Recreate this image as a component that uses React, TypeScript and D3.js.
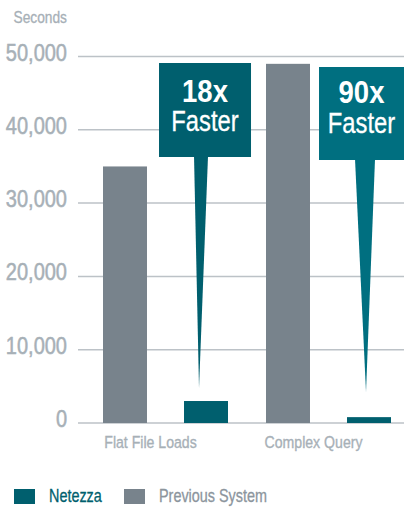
import React from "react";
import * as d3 from "d3";

const categories = ["Flat File Loads", "Complex Query"];
const seriesNames = ["Previous System", "Netezza"];
const previousValues = [35000, 49000];
const netezzaValues = [3000, 800];
const yTicks = [0, 10000, 20000, 30000, 40000, 50000];
const calloutLabels = ["18x", "90x"];
const calloutSub = "Faster";
const axisTitle = "Seconds";

const W = 404;
const H = 507;
const FONT = "'Liberation Sans', Arial, sans-serif";
const GRAY_BAR = "#78838c";
const TEAL = "#005f6e";
const TEAL2 = "#006f80";
const GRID = "#bcc2c7";
const LABEL = "#a7b0b7";

// callout layout (relative to the Netezza bar of each category)
const calloutLayout = [
  { dx: -25, top: 63, w: 92, h: 94, color: TEAL, s0: 10, s1: 24, tipDx: 15, tipY: 388, b1: 39, b2: 68 },
  { dx: -28, top: 67, w: 85, h: 93, color: TEAL2, s0: 8, s1: 28, tipDx: 19, tipY: 392, b1: 36, b2: 66 },
];

type NProps = {
  x: number;
  y: number;
  sx?: number;
  size: number;
  fill: string;
  anchor?: "start" | "middle" | "end";
  weight?: string;
  thick?: number;
  children: React.ReactNode;
};

function NText({ x, y, sx = 0.84, size, fill, anchor = "start", weight = "normal", thick = 0, children }: NProps) {
  return (
    <text
      transform={`translate(${x},${y}) scale(${sx},1)`}
      textAnchor={anchor}
      fontSize={size}
      fontWeight={weight}
      fill={fill}
      stroke={thick > 0 ? fill : "none"}
      strokeWidth={thick}
    >
      {children}
    </text>
  );
}

export default function App() {
  const x = d3.scaleBand<string>().domain(categories).range([78, 404]).paddingInner(0).paddingOuter(0);
  const sub = d3.scaleBand<string>().domain(seriesNames).range([25, 150]).paddingInner(0.457);
  const y = d3.scaleLinear().domain([0, 50000]).range([423, 56.5]);
  const fmt = d3.format(",");
  const bw = sub.bandwidth();

  return (
    <svg width={W} height={H} style={{ position: "absolute", left: 0, top: 0 }} fontFamily={FONT}>
      <rect width={W} height={H} fill="#fff" />
      <NText x={67} y={23} anchor="end" size={16} sx={0.86} thick={0.3} fill={LABEL}>{axisTitle}</NText>
      {yTicks.map((t) => (
        <g key={t}>
          <line x1={78} x2={404} y1={y(t)} y2={y(t)} stroke={GRID} strokeWidth={1.5} />
          <NText x={67} y={y(t) + 4} anchor="end" size={23} sx={0.87} thick={0.5} fill={LABEL}>{fmt(t)}</NText>
        </g>
      ))}
      {categories.map((c, i) => {
        const x0 = x(c)!;
        return (
          <g key={c}>
            <rect x={x0 + sub("Previous System")!} y={y(previousValues[i])} width={bw} height={y(0) - y(previousValues[i])} fill={GRAY_BAR} />
            <rect x={x0 + sub("Netezza")!} y={y(netezzaValues[i])} width={bw} height={y(0) - y(netezzaValues[i])} fill={TEAL} />
            <NText x={x0 + 72.5} y={448} anchor="middle" size={17} sx={0.83} thick={0.35} fill={LABEL}>{c}</NText>
          </g>
        );
      })}
      {categories.map((c, i) => {
        const L = calloutLayout[i];
        const bx = x(c)! + sub("Netezza")!;
        const left = bx + L.dx;
        const cx = left + L.w / 2;
        return (
          <g key={"co" + c}>
            <rect x={left} y={L.top} width={L.w} height={L.h} fill={L.color} />
            <polygon
              points={`${bx + L.s0},${L.top + L.h - 1} ${bx + L.s1},${L.top + L.h - 1} ${bx + L.tipDx},${L.tipY}`}
              fill={L.color}
            />
            <NText x={cx} y={L.top + L.b1} anchor="middle" size={32} sx={0.86} weight="bold" fill="#fff">{calloutLabels[i]}</NText>
            <NText x={cx} y={L.top + L.b2} anchor="middle" size={29} sx={0.82} thick={0.3} fill="#fff">{calloutSub}</NText>
          </g>
        );
      })}
      <rect x={14} y={489} width={21} height={15} fill={TEAL} />
      <NText x={49} y={502} size={18} sx={0.8} thick={0.3} fill={TEAL}>Netezza</NText>
      <rect x={124} y={489} width={21} height={15} fill={GRAY_BAR} />
      <NText x={159} y={502} size={18} sx={0.8} thick={0.3} fill="#8c959d">Previous System</NText>
    </svg>
  );
}
